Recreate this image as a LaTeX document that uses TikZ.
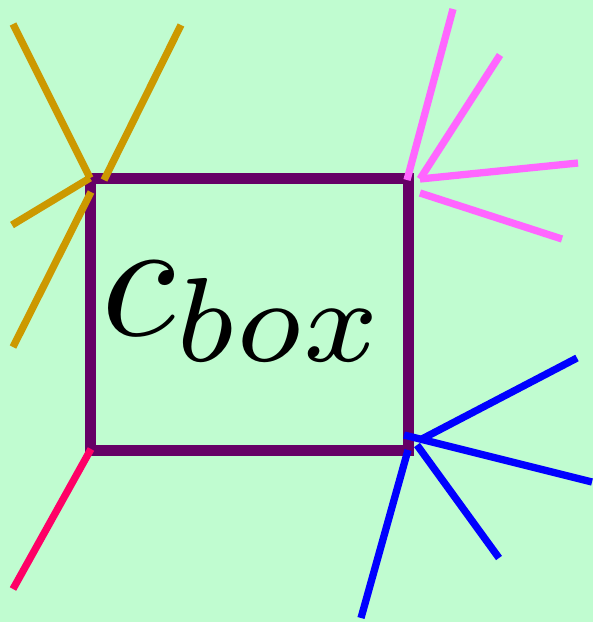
\documentclass[tikz,border=0pt]{standalone}
\usepackage{graphicx}
\begin{document}
\begin{tikzpicture}[x=1pt,y=-1pt,
  ray/.style={line width=7.3pt},
  gold/.style={ray,draw={rgb,255:red,204;green,153;blue,0}},
  pinkray/.style={ray,draw={rgb,255:red,255;green,102;blue,255}},
  blueray/.style={ray,draw={rgb,255:red,0;green,0;blue,255}},
  redray/.style={ray,draw={rgb,255:red,255;green,0;blue,102}}]
\fill[fill={rgb,255:red,192;green,252;blue,208}] (0,0) rectangle (593,622);
\useasboundingbox (0,0) rectangle (593,622);
\node[draw={rgb,255:red,102;green,0;blue,102},line width=11pt,minimum width=318pt,minimum height=272pt,inner sep=0pt,outer sep=0pt,anchor=north west] (box) at (90,178) {};
\node[inner sep=0pt] (lbl) at (245,312) {\scalebox{17.1}{$c_{box}$}};
% free ends
\coordinate (g1) at (13,24);
\coordinate (g2) at (181,25);
\coordinate (g3) at (12,225);
\coordinate (g4) at (13,347);
\coordinate (p1) at (453,9);
\coordinate (p2) at (500,55);
\coordinate (p3) at (578,163);
\coordinate (p4) at (562,239);
\coordinate (b1) at (577,358);
\coordinate (b2) at (592,482);
\coordinate (b3) at (499,558);
\coordinate (b4) at (361,618);
\coordinate (r1) at (13,589);
% gold
\draw[gold] (g1) -- (box.north west);
\draw[gold] (g2) -- ([shift={(14,2)}]box.north west);
\draw[gold] (g3) -- (box.north west);
\draw[gold] (g4) -- ([shift={(1,14)}]box.north west);
% pink
\draw[pinkray] (p1) -- ([shift={(-1,2)}]box.north east);
\draw[pinkray] (p2) -- ([shift={(12,1)}]box.north east);
\draw[pinkray] (p3) -- ([shift={(12,1)}]box.north east);
\draw[pinkray] (p4) -- ([shift={(12,15)}]box.north east);
% blue
\draw[blueray] (b1) -- ([shift={(12,-10)}]box.south east);
\draw[blueray] (b2) -- ([shift={(-4,-15)}]box.south east);
\draw[blueray] (b3) -- ([shift={(9,-5)}]box.south east);
\draw[blueray] (b4) -- (box.south east);
% red
\draw[redray] (r1) -- ([shift={(1,-1)}]box.south west);
\end{tikzpicture}
\end{document}
